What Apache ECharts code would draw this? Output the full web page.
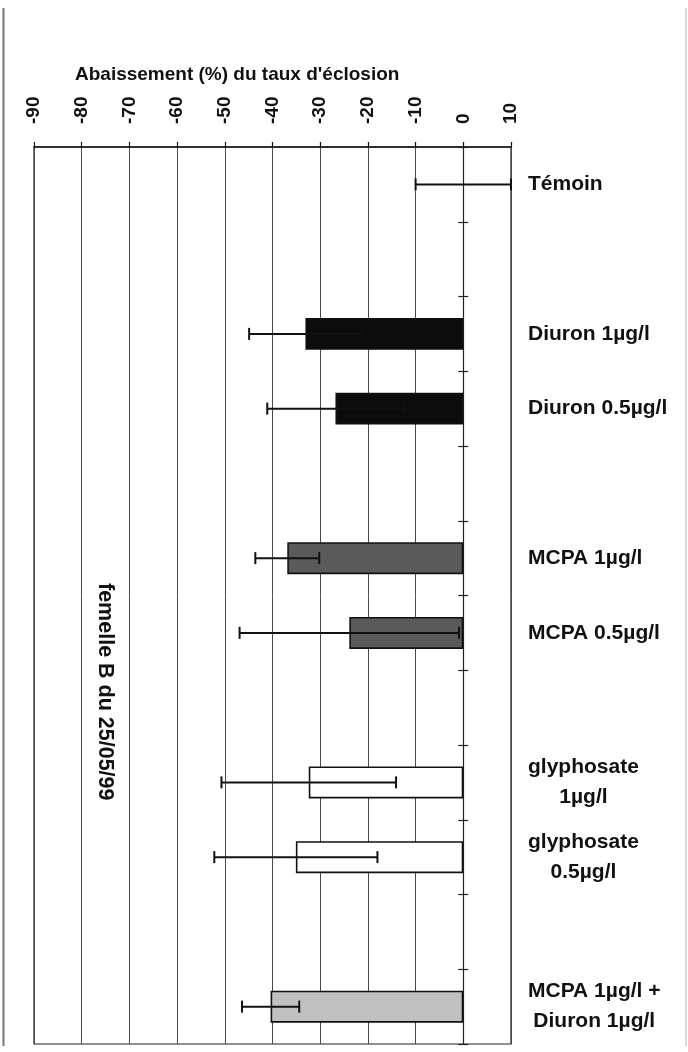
<!DOCTYPE html>
<html>
<head>
<meta charset="utf-8">
<script src="https://cdn.jsdelivr.net/npm/echarts@6/dist/echarts.min.js"></script>
<style>
  html, body { margin: 0; padding: 0; background: #fff; }
  #chart { width: 688px; height: 1052px; }
</style>
</head>
<body>
<div id="chart"></div>
<script>
// Treatments, top to bottom; empty strings are spacer rows between groups
const categories = [
  'Témoin', '',
  'Diuron 1µg/l', 'Diuron 0.5µg/l', '',
  'MCPA 1µg/l', 'MCPA 0.5µg/l', '',
  'glyphosate\n1µg/l', 'glyphosate\n0.5µg/l', '',
  'MCPA 1µg/l +\nDiuron 1µg/l'
];
// Mean decrease in hatching rate (%)
const meanValues = [0, null, -33.1, -26.8, null, -36.9, -23.9, null, -32.4, -35.1, null, -40.4];
// Error bar half-width (%)
const errorValues = [10, null, 11.8, 14.3, null, 6.7, 23, null, 18.3, 17.1, null, 6];
// Value-axis ticks
const axisMin = -90, axisMax = 10, axisStep = 10;

const barColors = ['#ffffff', null, '#0c0c0c', '#0c0c0c', null, '#5a5a5a', '#5a5a5a', null,
                   '#ffffff', '#ffffff', null, '#c0c0c0'];

const FONT = '"Liberation Sans", Arial, sans-serif';
const INK = '#111';

const barData = meanValues.map((v, i) => v == null ? null : {
  value: v,
  itemStyle: { color: barColors[i], borderWidth: v === 0 ? 0 : 1.6 }
});
const errData = [];
meanValues.forEach((v, i) => {
  if (v != null && errorValues[i] != null) {
    errData.push([i, v - errorValues[i], v + errorValues[i]]);
  }
});

// Two-line labels are centred line by line
function labelFormatter(val) {
  if (val.indexOf('\n') < 0) return val;
  return val.split('\n').map(s => '{c|' + s + '}').join('\n');
}

const chart = echarts.init(document.getElementById('chart'), null, { renderer: 'canvas' });
chart.setOption({
  animation: false,
  backgroundColor: '#fff',
  title: {
    text: "Abaissement (%) du taux d'éclosion",
    left: 75, top: 65, padding: 0,
    textStyle: { fontFamily: FONT, fontSize: 19, fontWeight: 'bold', color: INK }
  },
  grid: {
    left: 34, right: 177, top: 147, bottom: 8,
    show: true, borderColor: '#222', borderWidth: 1.2, backgroundColor: 'transparent'
  },
  xAxis: {
    type: 'value', position: 'top',
    min: axisMin, max: axisMax, interval: axisStep,
    axisLine: { show: true, onZero: false, lineStyle: { color: '#111', width: 1.5 } },
    axisTick: { show: true, length: 5, lineStyle: { color: '#111', width: 1.2 } },
    axisLabel: {
      rotate: -90, margin: 23,
      fontFamily: FONT, fontSize: 19, fontWeight: 'bold', color: INK
    },
    splitLine: { show: true, lineStyle: { color: '#4a4a4a', width: 1 } }
  },
  yAxis: [
    {
      type: 'category', data: categories, inverse: true, position: 'right',
      axisLine: { show: true, onZero: true, onZeroAxisIndex: 0, lineStyle: { color: '#222', width: 1.2 } },
      axisTick: { show: true, length: 5, lineStyle: { color: '#222', width: 1.2 } },
      axisLabel: {
        margin: 17, fontFamily: FONT, fontSize: 21, fontWeight: 'bold', color: INK,
        lineHeight: 30, formatter: labelFormatter,
        rich: { c: { align: 'center', fontFamily: FONT, fontSize: 21, fontWeight: 'bold', color: INK, lineHeight: 30 } }
      },
      splitLine: { show: false }
    },
    {
      type: 'category', data: categories, inverse: true, position: 'left',
      axisLine: { show: false, onZero: true, onZeroAxisIndex: 0 },
      axisTick: { show: true, length: 5, lineStyle: { color: '#222', width: 1.2 } },
      axisLabel: { show: false },
      splitLine: { show: false }
    }
  ],
  graphic: [
    {
      type: 'text', left: 94, top: 583, rotation: -Math.PI / 2,
      style: { text: 'femelle B du 25/05/99', font: 'bold 21.5px ' + FONT, fill: INK }
    },
    { type: 'line', shape: { x1: 3.5, y1: 8, x2: 3.5, y2: 1046 }, style: { stroke: '#777', lineWidth: 2 } },
    { type: 'line', shape: { x1: 686, y1: 8, x2: 686, y2: 1046 }, style: { stroke: '#ccc', lineWidth: 1.5 } }
  ],
  series: [
    {
      type: 'bar', yAxisIndex: 0, data: barData, barWidth: 32,
      itemStyle: { borderColor: '#111', borderWidth: 1.6 },
      z: 2
    },
    {
      type: 'custom', yAxisIndex: 0, data: errData,
      encode: { x: [1, 2], y: 0 },
      z: 5,
      renderItem: function (params, api) {
        const idx = api.value(0);
        const p1 = api.coord([api.value(1), idx]);
        const p2 = api.coord([api.value(2), idx]);
        const h = 6;
        const st = { stroke: '#111', lineWidth: 2 };
        return {
          type: 'group',
          children: [
            { type: 'line', shape: { x1: p1[0], y1: p1[1], x2: p2[0], y2: p2[1] }, style: st },
            { type: 'line', shape: { x1: p1[0], y1: p1[1] - h, x2: p1[0], y2: p1[1] + h }, style: st },
            { type: 'line', shape: { x1: p2[0], y1: p2[1] - h, x2: p2[0], y2: p2[1] + h }, style: st }
          ]
        };
      }
    }
  ]
});
</script>
</body>
</html>
